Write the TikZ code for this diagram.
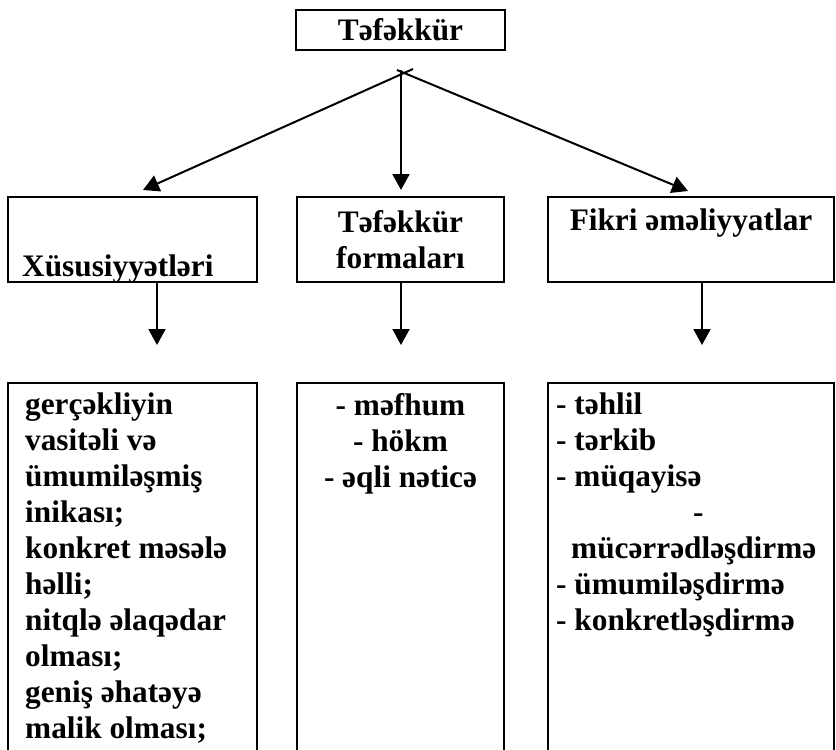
\documentclass[tikz,border=0pt]{standalone}
\usepackage{fontspec}
\setmainfont{Liberation Serif}
\usetikzlibrary{arrows.meta}
\tikzset{
	box/.style={draw, line width=2pt, rectangle, inner sep=0pt},
	txt/.style={inner sep=0pt, font=\bfseries\fontsize{31.3}{36}\selectfont},
	arr/.style={line width=2pt, -{Triangle[length=16pt,width=17pt]}},
}

\begin{document}
\begin{tikzpicture}[x=1pt,y=-1pt]
			%%%%% START %%%%%
			
			\clip (0,0) rectangle (836,750);
			
			\node[box, txt, minimum width=209pt, minimum height=40pt] (tef) at (400.5,30) {Təfəkkür};
			
			\coordinate (forkL) at (413,69);
			\coordinate (forkM) at (401,70);
			\coordinate (forkR) at (397,70);
			\coordinate (xusIn) at (143,190);
			\coordinate (formIn) at (401,190);
			\coordinate (fikrIn) at (688,191);
			\draw[arr] (forkL) -- (xusIn);
			\draw[arr] (forkM) -- (formIn);
			\draw[arr] (forkR) -- (fikrIn);
			
			\node[box, minimum width=249pt, minimum height=85pt] (xus) at (132.5,239.5) {};
			\node[box, minimum width=207pt, minimum height=85pt] (form) at (400.5,239.5) {};
			\node[box, minimum width=286pt, minimum height=85pt] (fikr) at (691,239.5) {};
			
			\node[txt, anchor=base west] (xusText) at (22,276) {Xüsusiyyətləri};
			\node[txt, anchor=north, align=center] (formText) at (400.5,210) {Təfəkkür\\formaları};
			\node[txt, anchor=base] (fikrText) at (691,230) {Fikri əməliyyatlar};
			
			\coordinate (xusOut) at (157,345);
			\coordinate (formOut) at (401,345);
			\coordinate (fikrOut) at (702,345);
			\draw[arr] (xus.south -| xusOut) -- (xusOut);
			\draw[arr] (form.south -| formOut) -- (formOut);
			\draw[arr] (fikr.south -| fikrOut) -- (fikrOut);
			
			% lists, boxes run past the bottom edge
			\node[box, minimum width=249pt, minimum height=417pt] (xusB) at (132.5,591.5) {};
			\node[box, minimum width=207pt, minimum height=417pt] (formB) at (400.5,591.5) {};
			\node[box, minimum width=286pt, minimum height=417pt] (fikrB) at (691,591.5) {};
			
			\node[txt, anchor=north west, align=left] (xusList) at (25,393) {gerçəkliyin\\vasitəli və\\ümumiləşmiş\\inikası;\\konkret məsələ\\həlli;\\nitqlə əlaqədar\\olması;\\geniş əhatəyə\\malik olması;};
			\node[txt, anchor=north, align=center] (formList) at (400.5,393) {- məfhum\\- hökm\hspace*{18pt}\\- əqli nəticə};
			\node[txt, anchor=north west, align=left] (fikrList) at (556,393) {- təhlil\\- tərkib\\- müqayisə\\\hspace*{137pt}-\\\hspace*{15pt}mücərrədləşdirmə\\- ümumiləşdirmə\\- konkretləşdirmə};
			
			%%%%% END %%%%%
\end{tikzpicture}
\end{document}
